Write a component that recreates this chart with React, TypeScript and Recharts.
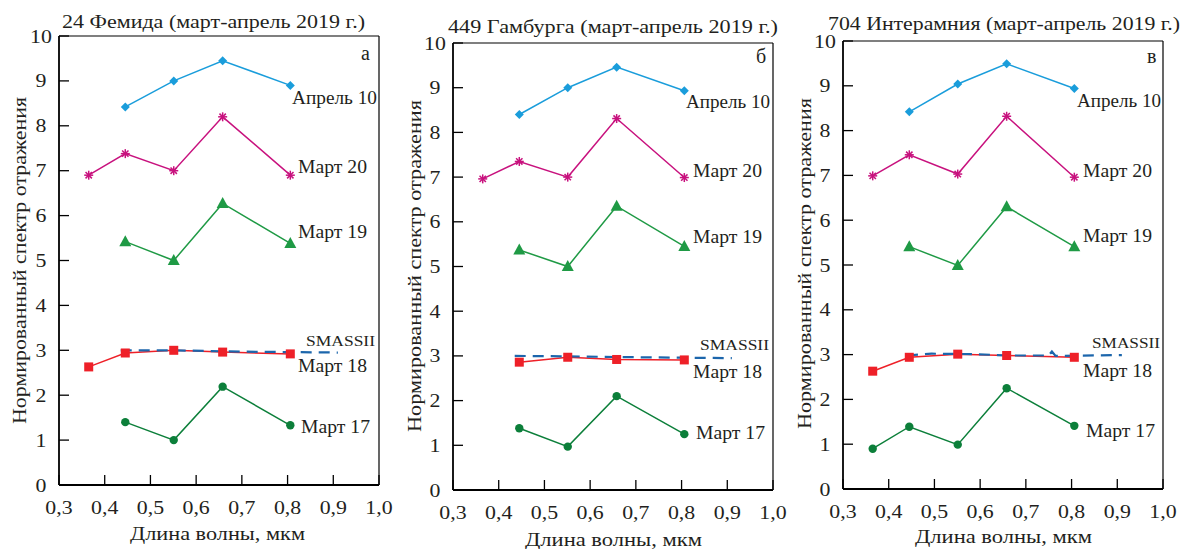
import React from 'react';
import { LineChart, Line, XAxis, YAxis, ReferenceLine } from 'recharts';

// ---------- data ----------
const WAVELENGTHS = [0.365, 0.445, 0.551, 0.658, 0.806]; // U B V R I, мкм
const X_TICKS = [0.3, 0.4, 0.5, 0.6, 0.7, 0.8, 0.9, 1.0];
const Y_TICKS = [0, 1, 2, 3, 4, 5, 6, 7, 8, 9, 10];
const SERIES_NAMES = ['Апрель 10', 'Март 20', 'Март 19', 'Март 18', 'Март 17'];
const SMASS_NAME = 'SMASSII';
const TITLES = [
  '24 Фемида (март-апрель 2019 г.)',
  '449 Гамбурга (март-апрель 2019 г.)',
  '704 Интерамния (март-апрель 2019 г.)',
];
const LETTERS = ['а', 'б', 'в'];
const Y_LABEL = 'Нормированный спектр отражения';
const X_LABEL = 'Длина волны, мкм';

// 24 Themis
const themisApr10 = [null, 8.42, 9.0, 9.45, 8.9];
const themisMar20 = [6.9, 7.38, 7.0, 8.2, 6.9];
const themisMar19 = [null, 5.42, 5.0, 6.27, 5.38];
const themisMar18 = [2.63, 2.94, 3.0, 2.96, 2.92];
const themisMar17 = [null, 1.4, 1.0, 2.19, 1.33];
const themisSmassWave = [0.435, 0.55, 0.7, 0.91];
const themisSmass = [3.0, 3.0, 2.97, 2.95];

// 449 Hamburga
const hamburgaApr10 = [null, 8.4, 9.0, 9.46, 8.93];
const hamburgaMar20 = [6.96, 7.35, 7.0, 8.31, 6.99];
const hamburgaMar19 = [null, 5.37, 5.0, 6.35, 5.45];
const hamburgaMar18 = [null, 2.86, 2.97, 2.92, 2.91];
const hamburgaMar17 = [null, 1.38, 0.97, 2.1, 1.25];
const hamburgaSmassWave = [0.435, 0.55, 0.7, 0.91];
const hamburgaSmass = [3.0, 2.99, 2.97, 2.95];

// 704 Interamnia
const interamniaApr10 = [null, 8.42, 9.04, 9.49, 8.94];
const interamniaMar20 = [6.99, 7.46, 7.03, 8.32, 6.96];
const interamniaMar19 = [null, 5.41, 4.99, 6.3, 5.41];
const interamniaMar18 = [2.63, 2.94, 3.01, 2.98, 2.94];
const interamniaMar17 = [0.9, 1.39, 0.99, 2.25, 1.41];
const interamniaSmassWave = [0.44, 0.494, 0.589, 0.66, 0.75, 0.757, 0.765, 0.91];
const interamniaSmass = [2.98, 3.02, 3.01, 2.98, 2.98, 3.07, 2.97, 2.99];

// ---------- styles ----------
const FONT = "'Liberation Serif', 'Times New Roman', serif";
const TEXT = '#231f20';
const COLORS = ['#1a9ddb', '#c8127e', '#1f9a45', '#ee2028', '#0c7f3a'];
const SHAPES = ['diamond', 'star', 'triangle', 'square', 'circle'];
const SMASS_COLOR = '#1c66ac';

const toPts = (waves: number[], vals: (number | null)[]) =>
  waves.map((x, i) => ({ x, y: vals[i] })).filter((p) => p.y !== null && p.y !== undefined);

const mkDot = (shape: string, color: string) => (props: any) => {
  const { cx, cy, index } = props;
  const key = `dot-${index}`;
  if (cx == null || cy == null) return <g key={key} />;
  switch (shape) {
    case 'diamond':
      return <path key={key} d={`M${cx},${cy - 4.5}L${cx + 4.5},${cy}L${cx},${cy + 4.5}L${cx - 4.5},${cy}Z`} fill={color} />;
    case 'triangle':
      return <path key={key} d={`M${cx},${cy - 6.5}L${cx + 6},${cy + 4.5}L${cx - 6},${cy + 4.5}Z`} fill={color} />;
    case 'square':
      return <rect key={key} x={cx - 4.5} y={cy - 4.5} width={9} height={9} fill={color} />;
    case 'circle':
      return <circle key={key} cx={cx} cy={cy} r={4.2} fill={color} />;
    case 'star': {
      const r = 4.5;
      const d = r * 0.707;
      return (
        <g key={key} stroke={color} strokeWidth={1.5}>
          <line x1={cx} y1={cy - r} x2={cx} y2={cy + r} />
          <line x1={cx - r} y1={cy} x2={cx + r} y2={cy} />
          <line x1={cx - d} y1={cy - d} x2={cx + d} y2={cy + d} />
          <line x1={cx - d} y1={cy + d} x2={cx + d} y2={cy - d} />
        </g>
      );
    }
    default:
      return <g key={key} />;
  }
};

const fmt = (v: number) => v.toFixed(1).replace('.', ',');

const XTick = (props: any) => {
  const { x, y, payload } = props;
  return (
    <text transform={`translate(${x},${y}) scale(1.15,1)`} textAnchor="middle" fontSize={19} fontFamily={FONT} fill={TEXT}>
      {fmt(payload.value)}
    </text>
  );
};

const YTick = (props: any) => {
  const { x, y, payload } = props;
  return (
    <text transform={`translate(${x},${y + 6.5}) scale(1.15,1)`} textAnchor="middle" fontSize={19} fontFamily={FONT} fill={TEXT}>
      {String(payload.value)}
    </text>
  );
};

type PanelGeom = { L: number; W: number; left: number; right: number; top: number; bottom: number };

const PANELS: PanelGeom[] = [
  { L: 0, W: 400, left: 59, right: 379, top: 36, bottom: 485 },
  { L: 395, W: 395, left: 453, right: 773, top: 43, bottom: 490 },
  { L: 790, W: 397, left: 843, right: 1163, top: 41, bottom: 489 },
];

const PANEL_DATA = [
  {
    series: [themisApr10, themisMar20, themisMar19, themisMar18, themisMar17],
    smassWave: themisSmassWave,
    smass: themisSmass,
  },
  {
    series: [hamburgaApr10, hamburgaMar20, hamburgaMar19, hamburgaMar18, hamburgaMar17],
    smassWave: hamburgaSmassWave,
    smass: hamburgaSmass,
  },
  {
    series: [interamniaApr10, interamniaMar20, interamniaMar19, interamniaMar18, interamniaMar17],
    smassWave: interamniaSmassWave,
    smass: interamniaSmass,
  },
];

// text placements (page coordinates)
const TEXT_POS = [
  {
    title: { x: 62, y: 28, w: 303 },
    letter: { x: 361, y: 60 },
    ylab: { x: 26, y: 260.5, w: 327 },
    xlab: { x: 130, y: 540, w: 175 },
    labels: [
      { x: 292, y: 104, w: 85 },
      { x: 298, y: 173, w: 69 },
      { x: 298, y: 238, w: 69 },
      { x: 298, y: 372, w: 69 },
      { x: 301, y: 433, w: 69 },
    ],
    smass: { x: 306, y: 346, w: 69 },
  },
  {
    title: { x: 448, y: 33, w: 330 },
    letter: { x: 756, y: 63 },
    ylab: { x: 421, y: 266, w: 332 },
    xlab: { x: 525, y: 546, w: 177 },
    labels: [
      { x: 686, y: 108, w: 84 },
      { x: 693, y: 177, w: 69 },
      { x: 693, y: 243, w: 69 },
      { x: 693, y: 378, w: 69 },
      { x: 696, y: 439, w: 69 },
    ],
    smass: { x: 700, y: 350, w: 69 },
  },
  {
    title: { x: 828, y: 30, w: 352 },
    letter: { x: 1147, y: 63 },
    ylab: { x: 811, y: 263.5, w: 331 },
    xlab: { x: 915, y: 543, w: 177 },
    labels: [
      { x: 1077, y: 107, w: 84 },
      { x: 1083, y: 177, w: 69 },
      { x: 1083, y: 242, w: 69 },
      { x: 1083, y: 377, w: 69 },
      { x: 1086, y: 437, w: 69 },
    ],
    smass: { x: 1092, y: 348, w: 68 },
  },
];

const Panel = ({ g, d }: { g: PanelGeom; d: (typeof PANEL_DATA)[number] }) => {
  const yAxisWidth = g.left - g.L;
  const xAxisHeight = 549 - g.bottom;
  return (
    <div style={{ position: 'absolute', left: g.L, top: 0 }}>
      <LineChart
        width={g.W}
        height={549}
        margin={{ top: g.top, right: g.W - (g.right - g.L), bottom: 0, left: 0 }}
      >
        <XAxis
          dataKey="x"
          type="number"
          domain={[0.3, 1.0]}
          ticks={X_TICKS}
          allowDataOverflow
          height={xAxisHeight}
          tickSize={-10}
          tickMargin={39}
          tick={XTick}
          axisLine={{ stroke: '#000', strokeWidth: 1.8 }}
          tickLine={{ stroke: '#000', strokeWidth: 1.3 }}
        />
        <YAxis
          type="number"
          domain={[0, 10]}
          ticks={Y_TICKS}
          allowDataOverflow
          width={yAxisWidth}
          tickSize={-10}
          tickMargin={28}
          tick={YTick}
          axisLine={{ stroke: '#000', strokeWidth: 1.8 }}
          tickLine={{ stroke: '#000', strokeWidth: 1.3 }}
        />
        <ReferenceLine y={10} stroke="#000" strokeWidth={1.2} />
        <ReferenceLine x={1.0} stroke="#000" strokeWidth={1.2} />
        {d.series.map((vals, i) =>
          i === 3 ? null : (
            <Line
              key={SERIES_NAMES[i]}
              data={toPts(WAVELENGTHS, vals)}
              dataKey="y"
              name={SERIES_NAMES[i]}
              stroke={COLORS[i]}
              strokeWidth={1.5}
              dot={mkDot(SHAPES[i], COLORS[i])}
              activeDot={false}
              isAnimationActive={false}
            />
          )
        )}
        <Line
          data={toPts(WAVELENGTHS, d.series[3])}
          dataKey="y"
          name={SERIES_NAMES[3]}
          stroke={COLORS[3]}
          strokeWidth={1.5}
          dot={mkDot(SHAPES[3], COLORS[3])}
          activeDot={false}
          isAnimationActive={false}
        />
        <Line
          data={toPts(d.smassWave, d.smass)}
          dataKey="y"
          name={SMASS_NAME}
          stroke={SMASS_COLOR}
          strokeWidth={2.2}
          strokeDasharray="11 7"
          dot={false}
          activeDot={false}
          isAnimationActive={false}
        />
      </LineChart>
    </div>
  );
};

const T = ({ x, y, w, size = 17, children, rotate }: any) => (
  <text
    x={rotate ? 0 : x}
    y={rotate ? 0 : y}
    transform={rotate ? `translate(${x},${y}) rotate(-90)` : undefined}
    textAnchor={rotate ? 'middle' : 'start'}
    textLength={w}
    lengthAdjust="spacingAndGlyphs"
    fontSize={size}
    fontFamily={FONT}
    fill={TEXT}
  >
    {children}
  </text>
);

export default function App() {
  return (
    <div style={{ position: 'absolute', left: 0, top: 0, width: 1187, height: 549, background: '#fff', overflow: 'hidden' }}>
      {PANELS.map((g, i) => (
        <Panel key={i} g={g} d={PANEL_DATA[i]} />
      ))}
      <svg width={1187} height={549} style={{ position: 'absolute', left: 0, top: 0, pointerEvents: 'none' }}>
        {TEXT_POS.map((p, i) => (
          <g key={i}>
            <T x={p.title.x} y={p.title.y} w={p.title.w} size={19.5}>{TITLES[i]}</T>
            <text x={p.letter.x} y={p.letter.y} fontSize={20} fontFamily={FONT} fill={TEXT}>{LETTERS[i]}</text>
            <T x={p.ylab.x} y={p.ylab.y} w={p.ylab.w} size={19} rotate>{Y_LABEL}</T>
            <T x={p.xlab.x} y={p.xlab.y} w={p.xlab.w} size={19.5}>{X_LABEL}</T>
            {p.labels.map((l, j) => (
              <T key={j} x={l.x} y={l.y} w={l.w} size={19}>{SERIES_NAMES[j]}</T>
            ))}
            <T x={p.smass.x} y={p.smass.y} w={p.smass.w} size={15}>{SMASS_NAME}</T>
          </g>
        ))}
      </svg>
    </div>
  );
}
